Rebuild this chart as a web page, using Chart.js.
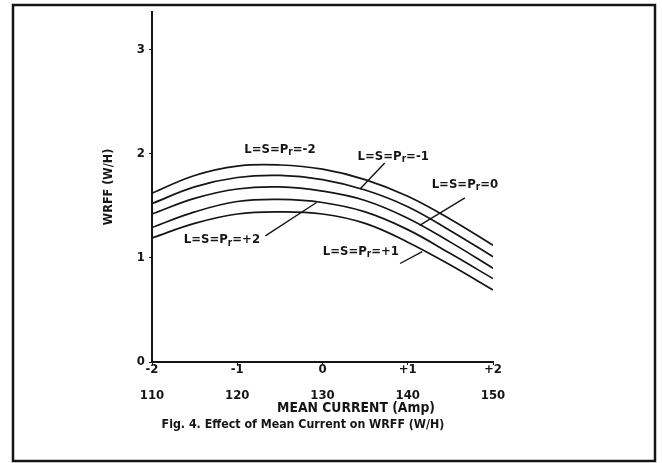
<!DOCTYPE html>
<html><head><meta charset="utf-8">
<script src="https://cdn.jsdelivr.net/npm/chart.js@4.4.1/dist/chart.umd.min.js"></script>
<style>html,body{margin:0;padding:0;background:#fff}#wrap{width:662px;height:463px;position:relative}canvas{display:block}</style>
</head><body><div id="wrap"><canvas id="c" width="662" height="463"></canvas></div>
<script>
// coded level of mean current (-2..+2) and the matching current in Amp
const xCoded = [-2, -1.5, -1, -0.5, 0, 0.5, 1, 1.5, 2];
const xTickCoded = ['-2', '-1', '0', '+1', '+2'];
const xTickAmp = ['110', '120', '130', '140', '150'];
const yTickValues = [0, 1, 2, 3];

// WRFF (W/H) curves, top to bottom
const wrffM2 = [1.62, 1.79, 1.88, 1.89, 1.85, 1.75, 1.59, 1.37, 1.12]; // L=S=Pr=-2
const wrffM1 = [1.52, 1.68, 1.77, 1.79, 1.75, 1.65, 1.49, 1.26, 1.01]; // L=S=Pr=-1
const wrff0  = [1.42, 1.57, 1.66, 1.68, 1.64, 1.55, 1.38, 1.15, 0.90]; // L=S=Pr=0
const wrffP2 = [1.29, 1.44, 1.54, 1.56, 1.53, 1.44, 1.27, 1.04, 0.80]; // L=S=Pr=+2
const wrffP1 = [1.19, 1.33, 1.42, 1.44, 1.42, 1.33, 1.15, 0.93, 0.69]; // L=S=Pr=+1

const seriesLevels = ['-2', '-1', '0', '+2', '+1'];
const seriesValues = [wrffM2, wrffM1, wrff0, wrffP2, wrffP1];

// curve labels: [level, label x, label y, pointer from x,y, pointer to x,y] in data units
const curveLabels = [
  ['-2', -0.50, 2.04, null],
  ['-1', 0.83, 1.97, [0.73, 1.91, 0.44, 1.66]],
  ['0', 1.67, 1.70, [1.67, 1.575, 1.14, 1.31]],
  ['+2', -1.18, 1.17, [-0.67, 1.21, -0.07, 1.53]],
  ['+1', 0.45, 1.06, [0.91, 0.945, 1.17, 1.06]]
];

const FONT = '"DejaVu Sans Condensed","Liberation Sans Narrow","DejaVu Sans",sans-serif';
const INK = '#151515';

const datasets = seriesValues.map((vals, i) => ({
  label: 'L=S=Pr=' + seriesLevels[i],
  data: xCoded.map((x, j) => ({x: x, y: vals[j]})),
  borderColor: INK,
  borderWidth: 1.7,
  pointRadius: 0,
  tension: 0.4,
  fill: false
}));

function drawLevelLabel(ctx, text, cx, cy) {
  const parts = [['L=S=P', 13, 0], ['r', 10, 3], ['=' + text, 13, 0]];
  let total = 0;
  parts.forEach(p => { ctx.font = 'bold ' + p[1] + 'px ' + FONT; total += ctx.measureText(p[0]).width; });
  let x = cx - total / 2;
  ctx.textAlign = 'left';
  ctx.textBaseline = 'middle';
  parts.forEach(p => {
    ctx.font = 'bold ' + p[1] + 'px ' + FONT;
    ctx.fillText(p[0], x, cy + p[2]);
    x += ctx.measureText(p[0]).width;
  });
}

const decor = {
  id: 'decor',
  afterDraw(chart) {
    const ctx = chart.ctx;
    const xs = chart.scales.x, ys = chart.scales.y;
    ctx.save();
    ctx.fillStyle = INK;
    ctx.strokeStyle = INK;
    curveLabels.forEach(c => {
      drawLevelLabel(ctx, c[0], xs.getPixelForValue(c[1]), ys.getPixelForValue(c[2]));
      if (c[3]) {
        ctx.lineWidth = 1.4;
        ctx.beginPath();
        ctx.moveTo(xs.getPixelForValue(c[3][0]), ys.getPixelForValue(c[3][1]));
        ctx.lineTo(xs.getPixelForValue(c[3][2]), ys.getPixelForValue(c[3][3]));
        ctx.stroke();
      }
    });
    ctx.textAlign = 'center';
    ctx.textBaseline = 'middle';
    ctx.font = 'bold 13.8px ' + FONT;
    ctx.fillText('MEAN CURRENT (Amp)', 356, 408);
    ctx.font = 'bold 12.3px ' + FONT;
    ctx.fillText('Fig. 4. Effect of Mean Current on WRFF (W/H)', 303, 425);
    ctx.lineWidth = 2.5;
    ctx.strokeRect(13, 5, 642, 456);
    ctx.restore();
  }
};

new Chart(document.getElementById('c'), {
  type: 'line',
  data: {datasets},
  plugins: [decor],
  options: {
    responsive: false,
    animation: false,
    devicePixelRatio: 1,
    layout: {padding: {left: 95, top: 10, right: 169, bottom: 0}},
    plugins: {legend: {display: false}, tooltip: {enabled: false}, title: {display: false}},
    scales: {
      x: {
        type: 'linear', min: -2, max: 2,
        afterBuildTicks: s => { s.ticks = [-2, -1, 0, 1, 2].map(v => ({value: v})); },
        afterFit: s => { s.height = 101; },
        ticks: {
          color: INK, padding: -8,
          font: {family: FONT, size: 13, weight: 'bold', lineHeight: 2.0},
          callback: (v) => { const i = Math.round(v) + 2; return [xTickCoded[i], xTickAmp[i]]; }
        },
        grid: {drawOnChartArea: false, drawTicks: true, tickLength: 3, color: INK},
        border: {color: INK, width: 2}
      },
      y: {
        type: 'linear', min: 0, max: 3.36,
        afterBuildTicks: s => { s.ticks = yTickValues.map(v => ({value: v})); },
        afterFit: s => { s.width = 57; },
        ticks: {color: INK, padding: 4, font: {family: FONT, size: 13, weight: 'bold'}},
        grid: {drawOnChartArea: false, drawTicks: true, tickLength: 3, color: INK},
        border: {color: INK, width: 2},
        title: {display: true, text: 'WRFF (W/H)', color: INK, padding: {top: 6, bottom: 0},
                font: {family: FONT, size: 12.5, weight: 'bold'}}
      }
    }
  }
});
</script></body></html>
